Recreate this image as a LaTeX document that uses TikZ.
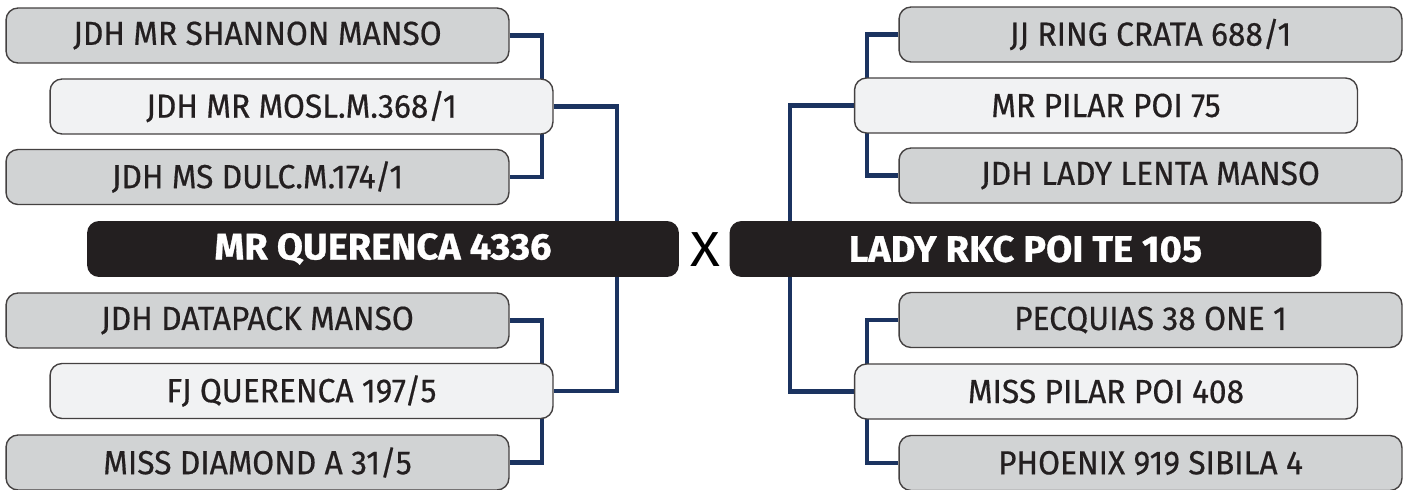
\documentclass[tikz,border=0pt]{standalone}
\usepackage{fontspec}
\setmainfont{Fira Sans}[FakeStretch=0.95, FakeBold=0.5]
\newfontfamily\champfont{Fira Sans}[FakeStretch=1.03, BoldFeatures={FakeBold=0.8}]
\newfontfamily\crossfont{Fira Sans}[FakeStretch=1.12]
\usetikzlibrary{positioning, calc}
\pgfdeclarelayer{background}
\pgfsetlayers{background,main}
\definecolor{navy}{HTML}{1B3360}
\definecolor{ink}{HTML}{231F20}
\definecolor{greybox}{HTML}{D1D3D4}
\definecolor{palebox}{HTML}{F1F2F3}

\begin{document}
\begin{tikzpicture}[x=0.02cm, y=-0.02cm,
    grand/.style={draw=ink!85, line width=0.8pt, rounded corners=0.24cm, fill=greybox,
      minimum width=10.06cm, minimum height=1.1cm, inner sep=0pt, text=ink,
      font=\fontsize{19}{19}\selectfont},
    parent/.style={grand, fill=palebox},
    champ/.style={fill=ink, rounded corners=0.24cm, minimum width=11.84cm,
      minimum height=1.12cm, inner sep=0pt, text=white,
      font=\champfont\bfseries\fontsize{21}{21}\selectfont},
    link/.style={draw=navy, line width=2.3pt}]
  \useasboundingbox (0,0) rectangle (1410,490);

  % SIRE SIDE
  \node[grand]  (sg1) at (257.5,35.5)  {JDH MR SHANNON MANSO};
  \node[parent] (ss)  at (301.5,106.5) {JDH MR MOSL.M.368/1};
  \node[grand]  (sg2) at (257.5,177)   {JDH MS DULC.M.174/1};
  \node[champ]  (sire) at (383,249)    {MR QUERENCA 4336};
  \node[grand]  (sg3) at (257.5,320.5) {JDH DATAPACK MANSO};
  \node[parent] (sd)  at (301.5,391)   {FJ QUERENCA 197/5};
  \node[grand]  (sg4) at (257.5,462.5) {MISS DIAMOND A 31/5};

  \node[font=\crossfont\fontsize{28}{28}\selectfont, text=black] (cross) at (705,250) {X};

  % DAM SIDE
  \node[grand]  (dg1) at (1150.5,34.5) {JJ RING CRATA 688/1};
  \node[parent] (ds)  at (1106,105.5)  {MR PILAR POI 75};
  \node[grand]  (dg2) at (1150.5,175.5) {JDH LADY LENTA MANSO};
  \node[champ]  (dam) at (1025.5,249)  {LADY RKC POI TE 105};
  \node[grand]  (dg3) at (1150.5,320)  {PECQUIAS 38 ONE 1};
  \node[parent] (dd)  at (1106,391.5)  {MISS PILAR POI 408};
  \node[grand]  (dg4) at (1150.5,463)  {PHOENIX 919 SIBILA 4};

  % LINKS
  \begin{pgfonlayer}{background}
    \draw[link] (sg1.east) -- ++(32,0) |- (sg2.east);
    \draw[link] (sg3.east) -- ++(32,0) |- (sg4.east);
    \draw[link] (ss.east) -- ++(63,0) |- (sd.east);
    \draw[link] (dg1.west) -- ++(-31,0) |- (dg2.west);
    \draw[link] (dg3.west) -- ++(-31,0) |- (dg4.west);
    \draw[link] (ds.west) -- ++(-64,0) |- (dd.west);
  \end{pgfonlayer}
\end{tikzpicture}
\end{document}
